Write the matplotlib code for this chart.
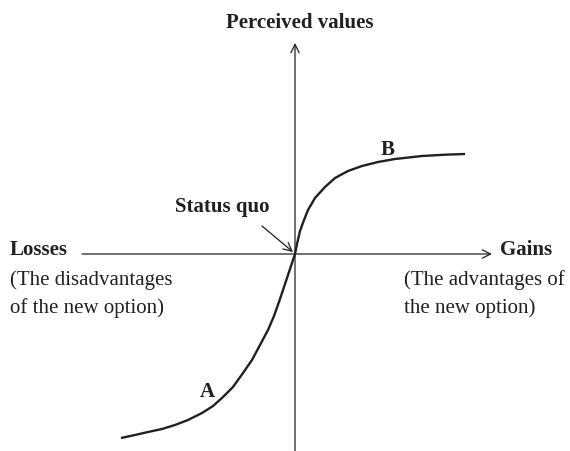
import matplotlib
matplotlib.use('Agg')
import matplotlib.pyplot as plt

# Verlauf der Wertfunktion (Gewinne/Verluste vs. wahrgenommener Wert)
gain = [-174, -160, -147, -133, -120, -107, -93, -82, -72, -62, -52, -43, -35, -27, -21, -15, -8, 0,
        2, 5, 9, 13, 20, 30, 40, 53, 67, 83, 100, 127, 150, 170]
value = [-184, -181, -178, -175, -171, -166, -159, -152, -143, -133, -119, -106, -91, -76, -62, -45, -24, 0,
         10, 23, 34, 44, 56, 67, 76, 83, 88, 92, 95, 98, 99.3, 100]

x_axis_range = [-213, 197]
y_axis_range = [-197, 211]

plt.rcParams['font.family'] = ['Liberation Serif', 'DejaVu Serif']
ink = '#231f20'

fig = plt.figure(figsize=(5.7, 4.51), dpi=100)
ax = fig.add_axes([0, 0, 1, 1])
ax.set_xlim(-295, 275)
ax.set_ylim(-197, 254)
ax.axis('off')

# Achsen mit offenen Pfeilspitzen
arrow = dict(arrowstyle='->,head_length=0.6,head_width=0.3', color=ink, lw=0.9,
             shrinkA=0, shrinkB=0)
ax.annotate('', xy=(x_axis_range[1], 0), xytext=(x_axis_range[0], 0), arrowprops=arrow)
ax.annotate('', xy=(0, y_axis_range[1]), xytext=(0, y_axis_range[0] - 5), arrowprops=arrow)

ax.plot(gain, value, color=ink, lw=1.7, solid_capstyle='butt', solid_joinstyle='round')

ax.text(5, 226, 'Perceived values', ha='center', va='baseline', fontsize=15, fontweight='bold', color=ink)
ax.text(-285, -1, 'Losses', ha='left', va='baseline', fontsize=15, fontweight='bold', color=ink)
ax.text(-285, -31, '(The disadvantages', ha='left', va='baseline', fontsize=15, color=ink)
ax.text(-285, -59, 'of the new option)', ha='left', va='baseline', fontsize=15, color=ink)
ax.text(205, -1, 'Gains', ha='left', va='baseline', fontsize=15, fontweight='bold', color=ink)
ax.text(109, -31, '(The advantages of', ha='left', va='baseline', fontsize=15, color=ink)
ax.text(109, -59, 'the new option)', ha='left', va='baseline', fontsize=15, color=ink)
ax.text(-72.5, 42, 'Status quo', ha='center', va='baseline', fontsize=15, fontweight='bold', color=ink)
ax.text(93, 99, 'B', ha='center', va='baseline', fontsize=15, fontweight='bold', color=ink)
ax.text(-87.5, -143, 'A', ha='center', va='baseline', fontsize=15, fontweight='bold', color=ink)

ax.annotate('', xy=(-2, 2), xytext=(-33, 28), arrowprops=arrow)

fig.savefig('out.png', dpi=100)
